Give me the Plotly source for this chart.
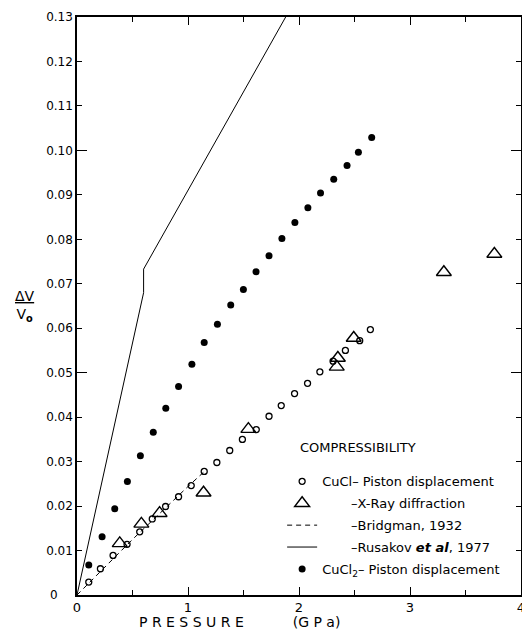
import plotly.graph_objects as go

# ---- data ----
cucl_p = [0.106, 0.211, 0.325, 0.451, 0.565, 0.678, 0.798, 0.915, 1.029, 1.146, 1.26, 1.376,
          1.49, 1.615, 1.73, 1.84, 1.96, 2.077, 2.188, 2.307, 2.418, 2.547, 2.643]
cucl_dv = [0.0029, 0.0059, 0.0089, 0.0114, 0.0142, 0.0171, 0.0199, 0.0221, 0.0246, 0.0278, 0.0298, 0.0325,
           0.0350, 0.0372, 0.0402, 0.0426, 0.0453, 0.0476, 0.0502, 0.0526, 0.0550, 0.0572, 0.0597]

xray_p = [0.385, 0.58, 0.744, 1.14, 1.544, 2.35, 2.34, 2.493, 3.305, 3.76]
xray_dv = [0.0116, 0.0160, 0.0184, 0.0230, 0.0373, 0.0533, 0.0513, 0.0578, 0.0726, 0.0767]

bridgman_p = [0.0, 0.5, 1.0, 1.17]
bridgman_dv = [0.0, 0.0125, 0.0244, 0.0283]

rusakov_p = [0.0, 0.6, 0.6, 1.88]
rusakov_dv = [0.0, 0.068, 0.0733, 0.130]

cucl2_p = [0.106, 0.226, 0.34, 0.454, 0.571, 0.687, 0.80, 0.915, 1.035, 1.146, 1.265, 1.385,
           1.499, 1.613, 1.73, 1.846, 1.963, 2.08, 2.194, 2.313, 2.433, 2.535, 2.655]
cucl2_dv = [0.00675, 0.0131, 0.0194, 0.0255, 0.0313, 0.0366, 0.0420, 0.0469, 0.0519, 0.0568, 0.0609, 0.0652,
            0.0687, 0.0727, 0.0763, 0.0802, 0.0838, 0.0871, 0.0904, 0.0935, 0.0966, 0.0996, 0.1029]

y_ticks = [0, 0.01, 0.02, 0.03, 0.04, 0.05, 0.06, 0.07, 0.08, 0.09, 0.10, 0.11, 0.12, 0.13]
y_tick_labels = ["0\u00a0\u00a0\u00a0\u00a0", "0.01", "0.02", "0.03", "0.04", "0.05", "0.06", "0.07",
                 "0.08", "0.09", "0.10", "0.11", "0.12", "0.13"]
y_long_ticks = [0.05, 0.10]
x_ticks = [0, 1, 2, 3, 4]
x_tick_labels = ["0", "1", "2", "3", "4"]

FONT = "DejaVu Sans"
NB = "\u00a0"

fig = go.Figure()

fig.add_trace(go.Scatter(
    x=bridgman_p, y=bridgman_dv, mode="lines",
    line=dict(color="black", width=1, dash="5px,4px"),
    name=NB * 7 + "–Bridgman, 1932", legendgroup="c", legendrank=3))
fig.add_trace(go.Scatter(
    x=rusakov_p, y=rusakov_dv, mode="lines",
    line=dict(color="black", width=1),
    name=NB * 7 + "–Rusakov <b><i>et al</i></b>, 1977", legendgroup="d", legendrank=4))
fig.add_trace(go.Scatter(
    x=cucl_p, y=cucl_dv, mode="markers",
    marker=dict(symbol="circle-open", size=6, color="black", line=dict(width=1.3)),
    name="CuCl– Piston displacement", legendgroup="a", legendrank=1))
fig.add_trace(go.Scatter(
    x=xray_p, y=xray_dv, mode="markers",
    marker=dict(symbol="triangle-up-open", size=13, color="black", line=dict(width=1.4)),
    name=NB * 7 + "–X-Ray diffraction", legendgroup="b", legendrank=2))
fig.add_trace(go.Scatter(
    x=cucl2_p, y=cucl2_dv, mode="markers",
    marker=dict(symbol="circle", size=7, color="black"),
    name="CuCl<sub>2</sub>– Piston displacement", legendgroup="e", legendrank=5))

# invisible trace on the overlay axis to carry the long ticks
fig.add_trace(go.Scatter(x=[None], y=[None], yaxis="y2", showlegend=False, hoverinfo="skip"))

fig.update_layout(
    width=522, height=629,
    margin=dict(l=77, r=1, t=17, b=34),
    paper_bgcolor="white", plot_bgcolor="white",
    font=dict(family=FONT, size=12, color="black"),
    showlegend=True,
    legend=dict(x=0.462, y=0.2225, xanchor="left", yanchor="top",
                bgcolor="rgba(0,0,0,0)", borderwidth=0,
                font=dict(family=FONT, size=13, color="black"),
                traceorder="grouped", tracegroupgap=2, itemsizing="trace"),
    xaxis=dict(range=[0, 4], tickvals=x_ticks, ticktext=x_tick_labels,
               ticks="inside", ticklen=8, tickwidth=1.2, tickcolor="black",
               minor=dict(dtick=0.5, ticks="inside", ticklen=5, tickwidth=1.2, tickcolor="black"),
               showline=True, linewidth=1.5, linecolor="black", mirror="ticks",
               showgrid=False, zeroline=False, automargin=False, ticklabeloverflow="allow",
               tickfont=dict(family=FONT, size=13, color="black")),
    yaxis=dict(range=[0, 0.13], tickvals=y_ticks, ticktext=y_tick_labels,
               ticks="inside", ticklen=5, tickwidth=1.2, tickcolor="black",
               showline=True, linewidth=1.5, linecolor="black", mirror="ticks",
               showgrid=False, zeroline=False, automargin=False,
               tickfont=dict(family=FONT, size=12, color="black")),
    yaxis2=dict(range=[0, 0.13], overlaying="y", side="left", tickvals=y_long_ticks,
                ticks="inside", ticklen=10, tickwidth=1.2, tickcolor="black",
                showticklabels=False, showline=False, mirror="ticks",
                showgrid=False, zeroline=False, automargin=False),
)

fig.add_annotation(text="COMPRESSIBILITY", xref="paper", yref="paper",
                   x=0.4977, y=0.2552, xanchor="left", yanchor="middle", showarrow=False,
                   font=dict(family=FONT, size=13, color="black"))
fig.add_annotation(text="P R E S S U R E" + NB * 11 + "(G P a)", xref="paper", yref="paper",
                   x=0.3664, y=-0.0467, xanchor="center", yanchor="middle", showarrow=False,
                   font=dict(family=FONT, size=14, color="black"))
fig.add_annotation(text="<u>ΔV</u><br>V<sub><b>o</b></sub>", xref="paper", yref="paper",
                   x=-0.118, y=0.5, xanchor="center", yanchor="middle", showarrow=False,
                   font=dict(family=FONT, size=14, color="black"))

fig.write_html("out.html", config={"displayModeBar": False},
               post_script="document.body.style.margin='0';document.body.style.padding='0';")
